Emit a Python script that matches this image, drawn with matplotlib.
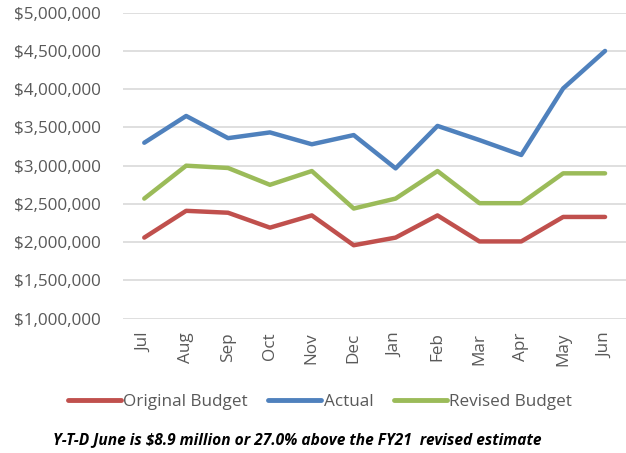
import matplotlib
matplotlib.use("Agg")
import matplotlib.pyplot as plt
from matplotlib.ticker import FuncFormatter

months = ["Jul", "Aug", "Sep", "Oct", "Nov", "Dec", "Jan", "Feb", "Mar", "Apr", "May", "Jun"]
original_budget = [2060000, 2410000, 2385000, 2190000, 2350000, 1960000, 2060000, 2350000, 2010000, 2010000, 2330000, 2330000]
actual = [3300000, 3650000, 3360000, 3435000, 3280000, 3400000, 2965000, 3520000, 3335000, 3140000, 4010000, 4500000]
revised_budget = [2570000, 3000000, 2970000, 2750000, 2930000, 2440000, 2570000, 2930000, 2510000, 2510000, 2900000, 2900000]

plt.rcParams['font.family'] = ['Open Sans', 'DejaVu Sans']
fig = plt.figure(figsize=(6.26, 4.53), dpi=100)
ax = fig.add_axes([0.197, 0.2965, 0.803, 0.6755])

x = range(len(months))
ax.plot(x, original_budget, color="#C0504D", lw=3.2, solid_capstyle="round", solid_joinstyle="round", label="Original Budget", zorder=3)
ax.plot(x, actual, color="#4F81BD", lw=3.2, solid_capstyle="round", solid_joinstyle="round", label="Actual", zorder=3)
ax.plot(x, revised_budget, color="#9BBB59", lw=3.2, solid_capstyle="round", solid_joinstyle="round", label="Revised Budget", zorder=3)

ax.set_ylim(1000000, 5000000)
ax.set_yticks(range(1000000, 5000001, 500000))
ax.yaxis.set_major_formatter(FuncFormatter(lambda v, p: "${:,.0f}".format(v)))
ax.set_xlim(-0.5, len(months) - 0.5)
ax.set_xticks(list(x))
ax.set_xticklabels(months, rotation=90)
ax.grid(axis="y", color="#D9D9D9", lw=1.2)
ax.set_axisbelow(True)
for s in ax.spines.values():
    s.set_visible(False)
ax.tick_params(axis="both", length=0, labelsize=12.3, labelcolor="#595959")
ax.tick_params(axis="y", pad=16)
ax.tick_params(axis="x", pad=10)

leg = fig.legend(loc="center", bbox_to_anchor=(0.511, 0.1126), ncol=3, frameon=False,
                 fontsize=12.3, handlelength=3.1, handletextpad=0.15, columnspacing=1.2)
for t in leg.get_texts():
    t.set_color("#595959")
for h in leg.get_lines():
    h.set_linewidth(3.5)

fig.text(0.475, 0.029, "Y-T-D June is $8.9 million or 27.0% above the FY21  revised estimate",
         ha="center", va="center", fontsize=11.2, fontweight="bold", fontstyle="italic", color="black")

fig.savefig("out.png", dpi=100)
